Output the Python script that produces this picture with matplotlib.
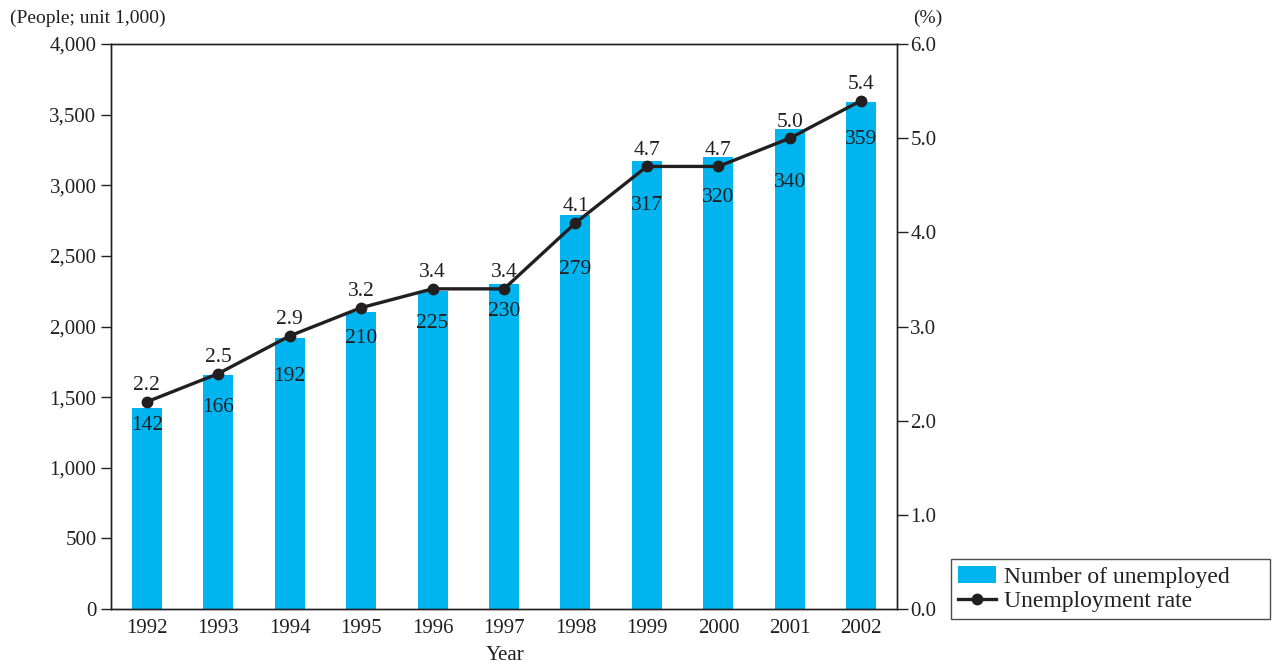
import matplotlib.pyplot as plt
import numpy as np

plt.rcParams['font.family'] = ['Liberation Serif', 'DejaVu Serif']
plt.rcParams['font.size'] = 15
plt.rcParams['text.color'] = '#231f20'
plt.rcParams['axes.edgecolor'] = '#231f20'
plt.rcParams['xtick.color'] = '#231f20'
plt.rcParams['ytick.color'] = '#231f20'

# data
years = ['1992', '1993', '1994', '1995', '1996', '1997', '1998', '1999', '2000', '2001', '2002']
unemployed = [142, 166, 192, 210, 225, 230, 279, 317, 320, 340, 359]  # unit 10,000 people
rate = [2.2, 2.5, 2.9, 3.2, 3.4, 3.4, 4.1, 4.7, 4.7, 5.0, 5.4]
rate_labels = ['2.2', '2.5', '2.9', '3.2', '3.4', '3.4', '4.1', '4.7', '4.7', '5.0', '5.4']

# how far below the bar top each count label sits (points)
label_drop = [12, 24, 28, 19, 23, 20, 39, 32, 29, 39, 27]

bar_color = '#00b5ef'
line_color = '#231f20'

fig = plt.figure(figsize=(12.72, 6.64), dpi=100)
ax1 = fig.add_axes([0.0873, 0.0828, 0.6179, 0.8509])
ax2 = ax1.twinx()

x = np.arange(len(years))
counts = np.array(unemployed) * 10  # axis in 1,000 people
bars = ax1.bar(x, counts, width=0.42, color=bar_color, zorder=1, label='Number of unemployed')

for i, v in enumerate(unemployed):
    ax1.annotate(str(v), (x[i], counts[i]), xytext=(0, -label_drop[i]),
                 textcoords='offset points', ha='center', va='center', fontsize=15.5)

ax1.set_xlim(-0.5, len(years) - 0.5)
ax1.set_ylim(0, 4000)
ax1.set_yticks(np.arange(0, 4001, 500))
ax1.set_yticklabels(['{:,}'.format(v) for v in range(0, 4001, 500)])
ax1.set_xticks(x)
ax1.set_xticklabels(years)
ax1.tick_params(axis='x', length=0, pad=7)
ax1.tick_params(axis='y', direction='out', length=7.5, width=1, pad=3)

line, = ax2.plot(x, rate, color=line_color, lw=2.4, marker='o', ms=7.5, zorder=3,
                 label='Unemployment rate')
for i, r in enumerate(rate):
    ax2.annotate(rate_labels[i], (x[i], r), xytext=(0, 11.5), textcoords='offset points',
                 ha='center', va='center', fontsize=15.5)
ax2.set_ylim(0, 6.0)
ax2.set_yticks(np.arange(0, 6.01, 1.0))
ax2.set_yticklabels(['{:.1f}'.format(v) for v in np.arange(0, 6.01, 1.0)])
ax2.tick_params(axis='y', direction='out', length=8, width=1, pad=1.5)

for ax in (ax1, ax2):
    for s in ax.spines.values():
        s.set_linewidth(1.0)

fig.text(10 / 1272, 1 - 18 / 664, '(People; unit 1,000)', ha='left', va='center', fontsize=14)
fig.text(928 / 1272, 1 - 18 / 664, '(%)', ha='center', va='center', fontsize=14)
fig.text(505 / 1272, 1 - 655 / 664, 'Year', ha='center', va='center', fontsize=15)

leg = fig.legend([bars, line], ['Number of unemployed', 'Unemployment rate'],
                 loc='lower left', bbox_to_anchor=(951 / 1272, 45 / 664, 319 / 1272, 60 / 664),
                 mode='expand', fontsize=17, frameon=True, fancybox=False, edgecolor='#231f20',
                 handlelength=1.6, handletextpad=0.35, borderpad=0.3, labelspacing=0.12,
                 borderaxespad=0)
leg.get_frame().set_linewidth(1.0)

fig.savefig('out.png', dpi=100)
